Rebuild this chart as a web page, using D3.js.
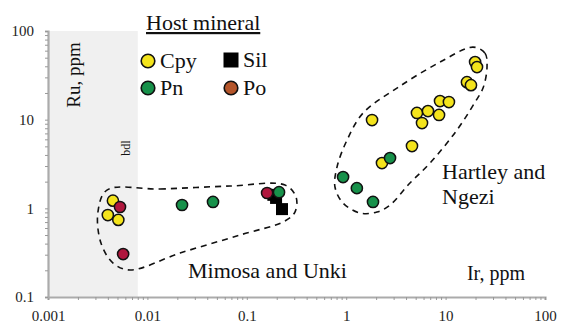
<!DOCTYPE html>
<html>
<head>
<meta charset="utf-8">
<script src="https://cdn.jsdelivr.net/npm/d3@7"></script>
<style>
  body { margin: 0; background: #fff; }
  svg text { font-family: "Liberation Serif", "DejaVu Serif", serif; }
</style>
</head>
<body>
<div id="chart"></div>
<script>
// Ir (x) and Ru (y) in ppm, by host mineral
var cpyIr = [0.0045, 0.0040, 0.0051, 2.29, 4.59, 1.82, 5.15, 6.65, 5.79, 8.59, 8.79, 10.8, 16.4, 18.0, 19.8, 20.7];
var cpyRu = [1.22, 0.84, 0.74, 3.24, 5.04, 9.9, 11.9, 12.5, 9.16, 11.3, 16.2, 15.8, 26.5, 24.5, 44.6, 39.2];
var pnIr = [0.0223, 0.0457, 0.211, 0.93, 1.28, 1.86, 2.76];
var pnRu = [1.09, 1.18, 1.52, 2.25, 1.69, 1.18, 3.69];
var poIr = [0.0053, 0.0057, 0.16];
var poRu = [1.035, 0.305, 1.49];
var silIr = [0.185, 0.197, 0.226];
var silRu = [1.42, 1.31, 0.98];

// detection limit for Ir
var bdlIr = 0.008;

// hand drawn group outlines (Ir, Ru)
var mimosaIr = [0.00392, 0.0134, 0.0678, 0.242, 0.313, 0.305, 0.242, 0.0854, 0.0213, 0.00668, 0.00451, 0.00341, 0.00318];
var mimosaRu = [1.608, 1.651, 1.784, 1.831, 1.341, 0.908, 0.719, 0.5, 0.313, 0.2015, 0.2417, 0.406, 0.908];
var hartleyIr = [18.87, 24.9, 26.1, 23.8, 19.8, 13.0, 6.97, 4.38, 2.76, 2.04, 1.38, 0.929, 0.771, 0.808, 1.02, 1.48, 3.24, 8.78];
var hartleyRu = [65.8, 56.3, 39.2, 22.7, 15.8, 7.63, 3.24, 1.93, 1.09, 0.908, 0.885, 1.148, 1.74, 2.92, 5.89, 11.9, 22.7, 44.6];

var xTicks = [0.001, 0.01, 0.1, 1, 10, 100];
var yTicks = [0.1, 1, 10, 100];

function init() {
    var w = 562;
    var h = 326;
    var padding = { top: 31, right: 17, bottom: 29, left: 48 };

    var svg = d3.select("#chart")
        .append("svg")
        .attr("width", w)
        .attr("height", h);

    var xScale = d3.scaleLog().domain([0.001, 100]).range([padding.left, w - padding.right]);
    var yScale = d3.scaleLog().domain([0.1, 100]).range([h - padding.bottom, padding.top]);

    var colors = { Cpy: "#f4e41c", Pn: "#17914a", Po: "#b4552a", PoPt: "#b0173e", Sil: "#000" };

    // bdl shaded band
    svg.append("rect")
        .attr("x", xScale(0.001))
        .attr("y", yScale(100))
        .attr("width", xScale(bdlIr) - xScale(0.001))
        .attr("height", yScale(0.1) - yScale(100))
        .attr("fill", "#f0f0f0");

    // minor ticks for log axes
    function logTicks(lo, hi) {
        var t = [];
        for (var p = lo; p < hi; p++) {
            for (var m = 1; m < 10; m++) t.push(m * Math.pow(10, p));
        }
        t.push(Math.pow(10, hi));
        return t;
    }

    var xAxis = svg.append("g")
        .attr("transform", "translate(0," + (h - padding.bottom) + ")")
        .call(d3.axisBottom(xScale).tickValues(logTicks(-3, 2)).tickSize(3).tickPadding(10)
            .tickFormat(d => xTicks.some(t => Math.abs(t - d) / t < 1e-9) ? String(d) : ""));
    var yAxis = svg.append("g")
        .attr("transform", "translate(" + padding.left + ",0)")
        .call(d3.axisLeft(yScale).tickValues(logTicks(-1, 2)).tickSize(3).tickPadding(11)
            .tickFormat(d => yTicks.some(t => Math.abs(t - d) / t < 1e-9) ? String(d) : ""));

    [xAxis, yAxis].forEach(function(g) {
        g.select(".domain").attr("stroke", "#ababab").attr("stroke-width", 2.2);
        g.selectAll(".tick line").attr("stroke", "#999");
        g.selectAll(".tick text")
            .attr("fill", "#222")
            .style("font-family", "'Liberation Serif', serif")
            .style("font-size", "15px");
    });

    // group outlines
    var outline = d3.line()
        .x(d => xScale(d[0]))
        .y(d => yScale(d[1]))
        .curve(d3.curveCatmullRomClosed.alpha(0.5));

    [[mimosaIr, mimosaRu], [hartleyIr, hartleyRu]].forEach(function(g) {
        svg.append("path")
            .datum(d3.zip(g[0], g[1]))
            .attr("fill", "none")
            .attr("stroke", "#111")
            .attr("stroke-width", 1.6)
            .attr("stroke-dasharray", "6,5")
            .attr("d", outline);
    });

    // data points
    var sq = 12;
    svg.selectAll(".sil")
        .data(d3.zip(silIr, silRu))
        .enter().append("rect")
        .attr("x", d => xScale(d[0]) - sq / 2)
        .attr("y", d => yScale(d[1]) - sq / 2)
        .attr("width", sq)
        .attr("height", sq)
        .attr("fill", colors.Sil);

    function dots(xs, ys, fill) {
        svg.append("g").selectAll("circle")
            .data(d3.zip(xs, ys))
            .enter().append("circle")
            .attr("cx", d => xScale(d[0]))
            .attr("cy", d => yScale(d[1]))
            .attr("r", 5.6)
            .attr("fill", fill)
            .attr("stroke", "#111")
            .attr("stroke-width", 1.5);
    }
    dots(cpyIr, cpyRu, colors.Cpy);
    dots(poIr, poRu, colors.PoPt);
    dots(pnIr, pnRu, colors.Pn);

    // axis titles
    svg.append("text")
        .attr("transform", "translate(80,75) rotate(-90)")
        .attr("text-anchor", "middle")
        .style("font-size", "19px")
        .attr("fill", "#111")
        .text("Ru, ppm");

    svg.append("text")
        .attr("x", 525)
        .attr("y", 280)
        .attr("text-anchor", "end")
        .style("font-size", "20px")
        .attr("fill", "#111")
        .text("Ir, ppm");

    svg.append("text")
        .attr("transform", "translate(130,148) rotate(-90)")
        .attr("text-anchor", "middle")
        .style("font-size", "12px")
        .attr("fill", "#111")
        .text("bdl");

    // group labels
    svg.append("text")
        .attr("x", 188)
        .attr("y", 278)
        .style("font-size", "22px")
        .attr("fill", "#111")
        .text("Mimosa and Unki");

    var hl = svg.append("text")
        .attr("x", 442)
        .attr("y", 179)
        .style("font-size", "22px")
        .attr("fill", "#111");
    hl.append("tspan").text("Hartley and");
    hl.append("tspan").attr("x", 442).attr("dy", 25).text("Ngezi");

    // legend
    svg.append("text")
        .attr("x", 146)
        .attr("y", 30)
        .style("font-size", "22px")
        .style("text-decoration", "underline")
        .attr("fill", "#111")
        .text("Host mineral");

    var legend = [
        { name: "Cpy", x: 148, y: 61, shape: "circle", color: colors.Cpy },
        { name: "Pn", x: 148, y: 88, shape: "circle", color: colors.Pn },
        { name: "Sil", x: 231, y: 60, shape: "square", color: colors.Sil },
        { name: "Po", x: 231, y: 88, shape: "circle", color: colors.Po }
    ];
    legend.forEach(function(l) {
        if (l.shape === "circle") {
            svg.append("circle")
                .attr("cx", l.x).attr("cy", l.y).attr("r", 6.8)
                .attr("fill", l.color).attr("stroke", "#111").attr("stroke-width", 1.6);
        } else {
            svg.append("rect")
                .attr("x", l.x - 7.5).attr("y", l.y - 7.5).attr("width", 15).attr("height", 15)
                .attr("fill", l.color);
        }
        svg.append("text")
            .attr("x", l.x + 12)
            .attr("y", l.y + 7)
            .style("font-size", "22px")
            .attr("fill", "#111")
            .text(l.name);
    });
}

window.onload = init;
</script>
</body>
</html>
